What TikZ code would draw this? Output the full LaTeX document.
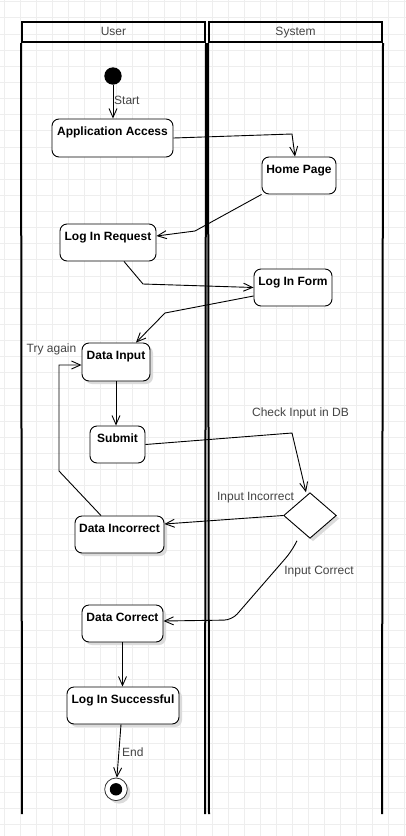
\documentclass[tikz,border=0pt]{standalone}
\usepackage{fontspec}
\setmainfont{Liberation Sans}
\usetikzlibrary{arrows.meta,shapes.geometric,shadows,calc}
\definecolor{gridc}{HTML}{EEEEEE}
\definecolor{lblc}{HTML}{444444}
\tikzset{
  box/.style={draw=black, line width=0.9pt, rounded corners=7pt, fill=white, inner sep=0pt},
  shbox/.style={box, drop shadow={shadow xshift=3pt, shadow yshift=-3pt, fill=black!14, opacity=1}},
  boxtext/.style={anchor=base, yshift=-16.5pt, inner sep=0pt, font=\bfseries\fontsize{12pt}{14pt}\selectfont},
  lbl/.style={text=lblc, inner sep=0pt, font=\fontsize{12pt}{14pt}\selectfont},
  lanehead/.style={draw=black, line width=2pt, inner sep=0pt, text=lblc, text height=8.6pt, text depth=2.4pt, font=\fontsize{12pt}{14pt}\selectfont},
  lanewall/.style={draw=black, line width=2pt},
  flow/.style={draw=black, line width=0.9pt, -{Straight Barb[length=9pt,width=8pt]}}
}
\begin{document}
\begin{tikzpicture}[x=1pt,y=-1pt]
\useasboundingbox (0,0) rectangle (406,836);
\fill[white] (0,0) rectangle (406,836);
% grid
\foreach \k in {0,...,25} {\draw[gridc, line width=0.7pt] ({4+16*\k},0) -- ({4+16*\k},836);}
\foreach \k in {0,...,51} {\draw[gridc, line width=0.7pt] (0,{1.7+16.13*\k}) -- (406,{1.7+16.13*\k});}
% lanes
\node[lanehead, minimum width=183pt, minimum height=20pt] (userhead) at (113.5,32) {User};
\node[lanehead, minimum width=173pt, minimum height=20pt] (syshead) at (295.5,32) {System};
\coordinate (ubl) at (22,814);
\coordinate (ubr) at (205,814);
\coordinate (sbl) at (209,814);
\coordinate (sbr) at (382,814);
\draw[lanewall] (userhead.south west) -- (ubl);
\draw[lanewall] (userhead.south east) -- (ubr);
\draw[lanewall] (syshead.south west) -- (sbl);
\draw[lanewall] (syshead.south east) -- (sbr);
% nodes
\node[circle, fill=black, minimum size=17.4pt, inner sep=0pt] (start) at (113,76) {};
\node[box, minimum width=121pt, minimum height=38pt, label={[boxtext]north:Application Access}] (appacc) at (112.5,138) {};
\node[box, minimum width=74pt, minimum height=37pt, label={[boxtext]north:Home Page}] (home) at (299,175.5) {};
\node[box, minimum width=96pt, minimum height=37pt, label={[boxtext]north:Log In Request}] (loginreq) at (108,242.5) {};
\node[box, minimum width=78pt, minimum height=37pt, label={[boxtext]north:Log In Form}] (loginform) at (293,287.5) {};
\node[shbox, minimum width=68pt, minimum height=38pt, label={[boxtext]north:Data Input}] (datainput) at (116,362) {};
\node[box, minimum width=55pt, minimum height=37pt, label={[boxtext]north:Submit}] (submit) at (117.5,444.5) {};
\node[diamond, draw=black, line width=0.9pt, fill=white, inner sep=0pt, minimum width=52.7pt, minimum height=45.6pt,
      drop shadow={shadow xshift=3pt, shadow yshift=-3pt, fill=black!14, opacity=1}] (dec) at (310,515.5) {};
\node[shbox, minimum width=89pt, minimum height=37pt, label={[boxtext]north:Data Incorrect}] (dataincorrect) at (119.5,534.5) {};
\node[shbox, minimum width=81pt, minimum height=37pt, label={[boxtext]north:Data Correct}] (datacorrect) at (122.5,623.5) {};
\node[shbox, minimum width=112pt, minimum height=37pt, label={[boxtext]north:Log In Successful}] (success) at (123,705.5) {};
\node[circle, draw=black!80, line width=0.8pt, fill=white, minimum size=22.6pt, inner sep=0pt,
      drop shadow={shadow xshift=3pt, shadow yshift=-3pt, fill=black!14, opacity=1}] (endc) at (116,789.3) {};
\node[circle, fill=black, minimum size=12.4pt, inner sep=0pt] (endin) at (endc) {};
% connectors
\draw[flow] (start) -- (start |- appacc.north);
\node[lbl, anchor=west] (lstart) at (114,100) {Start};
\draw[flow] (appacc.east) -- (292,134) -- ([xshift=-4pt]home.north);
\draw[flow] (home.south west) -- (195,231) -- ([yshift=6.5pt]loginreq.east);
\draw[flow] ([xshift=16pt]loginreq.south) -- (143,284) -- (loginform.west);
\draw[flow] ([yshift=-8.5pt]loginform.west) -- (165,313) -- ([xshift=20pt]datainput.north);
\draw[flow] (datainput.south) -- (datainput.south |- submit.north);
\draw[flow] (submit.east) -- (292,433) -- ([xshift=-4pt]dec.north);
\node[lbl] (lcheck) at (300.5,413) {Check Input in DB};
\draw[flow] (dec.west) -- ([yshift=10.5pt]dataincorrect.east);
\node[lbl] (lincorrect) at (255.5,498) {Input Incorrect};
\draw[flow, rounded corners=8pt] ([xshift=-13pt,yshift=-2pt]dec.south) -- (291,552) -- (232,620) -- ([yshift=2.5pt]datacorrect.east);
\node[lbl] (lcorrect) at (319,572) {Input Correct};
\draw[flow] ([xshift=-18.5pt]dataincorrect.north) -- (59,471) -- (59,365) -- ([yshift=-3pt]datainput.west);
\node[lbl] (ltry) at (51.5,349) {Try again};
\draw[flow] (datacorrect.south) -- (datacorrect.south |- success.north);
\draw[flow] ([xshift=-2pt]success.south) -- (endc);
\node[lbl, anchor=west] (lend) at (122,752) {End};
\end{tikzpicture}
\end{document}
